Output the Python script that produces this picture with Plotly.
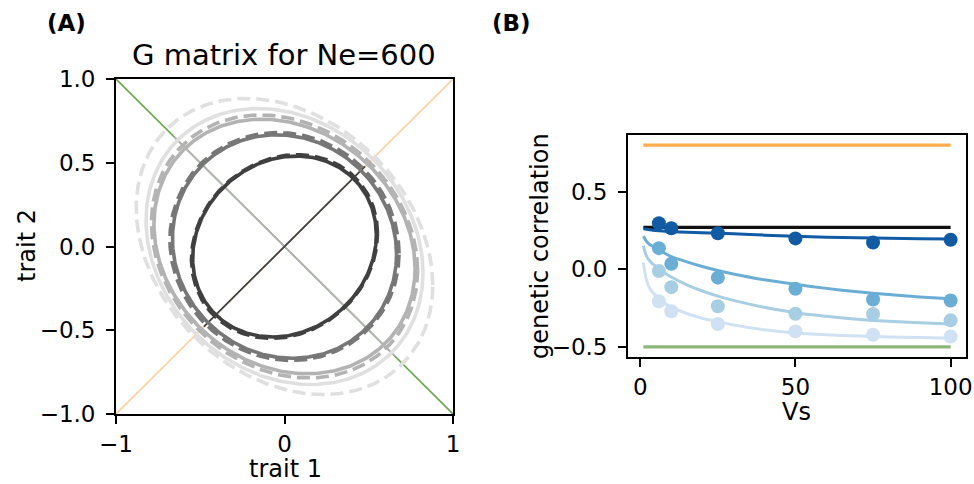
import numpy as np
import plotly.graph_objects as go

W, H = 974, 484
FONT = "DejaVu Sans"

# ---------------- Panel A data (G-matrix ellipses) ----------------
# each ellipse: x half-extent, y half-extent, correlation
ell_names = ["lightest solid", "lightest dashed", "light solid", "light dashed",
             "medium solid", "medium dashed", "dark solid", "dark dashed"]
ell_a = [0.822, 0.880, 0.775, 0.790, 0.665, 0.680, 0.545, 0.552]
ell_b = [0.824, 0.884, 0.760, 0.785, 0.667, 0.680, 0.540, 0.548]
ell_r = [-0.19, -0.26, -0.175, -0.18, -0.07, -0.06, 0.13, 0.14]
ell_color = ["#e0e0e0", "#e0e0e0", "#b3b3b3", "#b3b3b3",
             "#777777", "#777777", "#404040", "#404040"]
ell_dash = ["solid", "13px,6px", "solid", "13px,6px",
            "solid", "13px,6px", "solid", "13px,6px"]

# diagonal reference lines
diag_ends = [-1, 1]
anti_seg_half = 0.655   # grey segment along anti-diagonal
diag_seg_half = 0.478   # dark segment along diagonal

# ---------------- Panel B data ----------------
vs_line = [1, 2, 3, 4, 6, 8, 10, 15, 20, 25, 30, 40, 50, 60, 70, 80, 90, 100]
line_dark = [0.262, 0.258, 0.255, 0.252, 0.248, 0.245, 0.243, 0.238, 0.235, 0.232,
             0.229, 0.220, 0.212, 0.207, 0.203, 0.200, 0.197, 0.195]
line_med = [0.212, 0.180, 0.160, 0.148, 0.125, 0.102, 0.082, 0.048, 0.018, -0.008,
            -0.030, -0.068, -0.097, -0.123, -0.145, -0.163, -0.178, -0.190]
line_light = [0.152, 0.085, 0.055, 0.035, 0.005, -0.025, -0.050, -0.100, -0.140, -0.173,
              -0.200, -0.245, -0.280, -0.303, -0.322, -0.335, -0.345, -0.353]
line_lightest = [0.043, -0.070, -0.120, -0.150, -0.185, -0.220, -0.245, -0.285, -0.315, -0.336,
                 -0.358, -0.390, -0.410, -0.421, -0.430, -0.436, -0.440, -0.444]

vs_pts = [6, 10, 25, 50, 75, 100]
pts_dark = [0.297, 0.264, 0.232, 0.199, 0.173, 0.190]
pts_med = [0.136, 0.035, -0.054, -0.125, -0.195, -0.201]
pts_light = [-0.011, -0.115, -0.238, -0.286, -0.288, -0.329]
pts_lightest = [-0.206, -0.270, -0.353, -0.400, -0.422, -0.433]

hline_x = [1, 100]
hline_black = 0.27
hline_orange = 0.80
hline_green = -0.50

blue_colors = ["#cfe1f2", "#a8cee4", "#6aaed6", "#105ba4"]

# ---------------- figure ----------------
fig = go.Figure()

def px_x(p):
    return p / W

def px_y(p):
    return 1 - p / H

# Panel A reference lines
fig.add_trace(go.Scatter(x=diag_ends, y=diag_ends, mode="lines",
                         line=dict(color="#fdd0a2", width=1.6),
                         xaxis="x", yaxis="y", showlegend=False))
fig.add_trace(go.Scatter(x=diag_ends, y=[-v for v in diag_ends], mode="lines",
                         line=dict(color="#6aa84f", width=1.6),
                         xaxis="x", yaxis="y", showlegend=False))
fig.add_trace(go.Scatter(x=[-anti_seg_half, anti_seg_half], y=[anti_seg_half, -anti_seg_half],
                         mode="lines", line=dict(color="#b3b3b3", width=1.8),
                         xaxis="x", yaxis="y", showlegend=False))
fig.add_trace(go.Scatter(x=[-diag_seg_half, diag_seg_half], y=[-diag_seg_half, diag_seg_half],
                         mode="lines", line=dict(color="#404040", width=1.8),
                         xaxis="x", yaxis="y", showlegend=False))

t = np.linspace(0, 2 * np.pi, 361)
for a, b, r, c, d in zip(ell_a, ell_b, ell_r, ell_color, ell_dash):
    ex = a * np.cos(t)
    ey = b * (r * np.cos(t) + np.sqrt(1 - r * r) * np.sin(t))
    fig.add_trace(go.Scatter(x=ex, y=ey, mode="lines",
                             line=dict(color=c, width=3.6, dash=d),
                             xaxis="x", yaxis="y", showlegend=False))

# Panel B
fig.add_trace(go.Scatter(x=hline_x, y=[hline_orange] * 2, mode="lines",
                         line=dict(color="#fdab4c", width=3.2),
                         xaxis="x2", yaxis="y2", showlegend=False))
fig.add_trace(go.Scatter(x=hline_x, y=[hline_green] * 2, mode="lines",
                         line=dict(color="#8cb877", width=3.2),
                         xaxis="x2", yaxis="y2", showlegend=False))
fig.add_trace(go.Scatter(x=hline_x, y=[hline_black] * 2, mode="lines",
                         line=dict(color="#111111", width=3.2),
                         xaxis="x2", yaxis="y2", showlegend=False))

lines_all = [line_lightest, line_light, line_med, line_dark]
pts_all = [pts_lightest, pts_light, pts_med, pts_dark]
for ln, pt, col in zip(lines_all, pts_all, blue_colors):
    fig.add_trace(go.Scatter(x=vs_line, y=ln, mode="lines",
                             line=dict(color=col, width=3.0, shape="spline", smoothing=0.8),
                             xaxis="x2", yaxis="y2", showlegend=False))
    fig.add_trace(go.Scatter(x=vs_pts, y=pt, mode="markers",
                             marker=dict(color=col, size=14, line=dict(width=0)),
                             xaxis="x2", yaxis="y2", showlegend=False))

axis_common = dict(showgrid=False, zeroline=False, showline=True, linecolor="black",
                   linewidth=1.8, mirror=True, ticks="outside", ticklen=8, tickwidth=1.8,
                   tickcolor="black", automargin=False,
                   tickfont=dict(family=FONT, size=23, color="black"))

fig.update_layout(
    width=W, height=H, autosize=False,
    margin=dict(l=0, r=0, t=0, b=0, pad=0),
    paper_bgcolor="white", plot_bgcolor="white",
    xaxis=dict(domain=[px_x(116), px_x(453)], range=[-1, 1],
               tickvals=[-1, 0, 1], ticktext=["\u22121", "0", "1"],
               anchor="y", ticklabelstandoff=0, **axis_common),
    yaxis=dict(domain=[px_y(414), px_y(79)], range=[-1, 1],
               tickvals=[-1, -0.5, 0, 0.5, 1],
               ticktext=["\u22121.0", "\u22120.5", "0.0", "0.5", "1.0"],
               anchor="x", ticklabelstandoff=6, **axis_common),
    xaxis2=dict(domain=[px_x(628), px_x(966)], range=[-3.95, 104.95],
                tickvals=[0, 50, 100], ticktext=["0", "50", "100"],
                anchor="y2", ticklabelstandoff=0, **axis_common),
    yaxis2=dict(domain=[px_y(357), px_y(135)], range=[-0.565, 0.865],
                tickvals=[-0.5, 0, 0.5], ticktext=["\u22120.5", "0.0", "0.5"],
                anchor="x2", ticklabelstandoff=6, **axis_common),
)

def ann(text, x, y, size=24, bold=False, angle=0):
    fig.add_annotation(text=("<b>%s</b>" % text) if bold else text,
                       x=px_x(x), y=px_y(y), xref="paper", yref="paper",
                       showarrow=False, textangle=angle,
                       xanchor="center", yanchor="middle",
                       font=dict(family=FONT, size=size, color="black"))

ann("(A)", 66, 23, size=23, bold=True)
ann("(B)", 511, 23, size=23, bold=True)
ann("G matrix for Ne=600", 284, 55, size=29)
ann("trait 1", 285, 469, size=24)
ann("trait 2", 27, 246, size=24, angle=-90)
ann("Vs", 796, 412, size=24)
ann("genetic correlation", 540, 246, size=24, angle=-90)

fig.write_html("out.html", config={"displayModeBar": False},
               post_script="document.body.style.margin='0';document.body.style.padding='0';")
